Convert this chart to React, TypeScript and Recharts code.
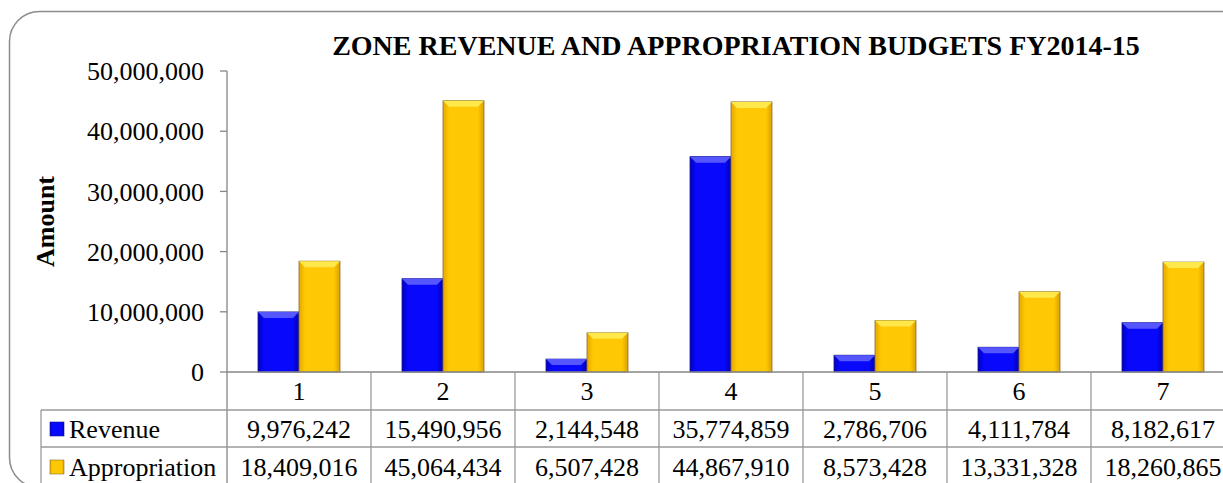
import React from "react";
import { BarChart, Bar, XAxis, YAxis } from "recharts";

const zones = ["1", "2", "3", "4", "5", "6", "7"];
const revenue = [9976242, 15490956, 2144548, 35774859, 2786706, 4111784, 8182617];
const appropriation = [18409016, 45064434, 6507428, 44867910, 8573428, 13331328, 18260865];
const yTicks = [0, 10000000, 20000000, 30000000, 40000000, 50000000];

const TITLE = "ZONE REVENUE AND APPROPRIATION BUDGETS FY2014-15";
const FONT = "'Liberation Serif', 'Times New Roman', serif";
const CELL = 144; // width of one category column
const GRID = "#9a9a9a";

const data = zones.map((zone, i) => ({
  zone,
  revenue: revenue[i],
  appropriation: appropriation[i],
}));

const fmt = (v: number) => v.toLocaleString("en-US");

// Excel-like bevelled bar
const makeBevel = (id: string, top: string, edge: string) => (props: any) => {
  const { x, y, width, height } = props;
  if (!height || height <= 0) return <g />;
  const b = Math.min(6, height / 2);
  return (
    <g>
      <rect x={x} y={y} width={width} height={height} fill={`url(#${id})`} stroke={edge} strokeWidth={0.8} />
      <polygon
        points={`${x},${y} ${x + width},${y} ${x + width - b},${y + b} ${x + b},${y + b}`}
        fill={top}
      />
    </g>
  );
};

const RevenueBar = makeBevel("gBlue", "#5656ff", "#1a1a8a");
const ApproBar = makeBevel("gGold", "#ffe84a", "#8a7030");

// data table under the plot, drawn per category tick
const TableTick = (props: any) => {
  const { x, y, payload, index } = props;
  const i = index ?? zones.indexOf(payload.value);
  const bottom = 490;
  const textStyle = { fontFamily: FONT, fontSize: 26, fill: "#000" };
  return (
    <g>
      <line x1={x + CELL / 2} y1={y} x2={x + CELL / 2} y2={bottom} stroke={GRID} strokeWidth={1.3} />
      {i === 0 && (
        <g>
          <line x1={x - CELL / 2} y1={y} x2={x - CELL / 2} y2={bottom} stroke="#868686" strokeWidth={1.3} />
          <line x1={41} y1={y + 38} x2={1300} y2={y + 38} stroke={GRID} strokeWidth={1.3} />
          <line x1={41} y1={y + 75} x2={1300} y2={y + 75} stroke={GRID} strokeWidth={1.3} />
          <line x1={41} y1={y + 38} x2={41} y2={bottom} stroke={GRID} strokeWidth={1.3} />
          <rect x={50} y={y + 50} width={14} height={14} fill="url(#gBlue)" stroke="#1a1a8a" strokeWidth={0.6} />
          <text x={69} y={y + 66} {...textStyle}>Revenue</text>
          <rect x={50} y={y + 88} width={14} height={14} fill="url(#gGold)" stroke="#8a7030" strokeWidth={0.6} />
          <text x={69} y={y + 104} {...textStyle}>Appropriation</text>
        </g>
      )}
      <text x={x} y={y + 28} textAnchor="middle" {...textStyle}>{payload.value}</text>
      <text x={x} y={y + 66} textAnchor="middle" {...textStyle}>{fmt(revenue[i])}</text>
      <text x={x} y={y + 104} textAnchor="middle" {...textStyle}>{fmt(appropriation[i])}</text>
    </g>
  );
};

export default function App() {
  return (
    <div
      style={{
        position: "fixed",
        left: 0,
        top: 0,
        width: 1223,
        height: 483,
        overflow: "hidden",
        background: "#fff",
      }}
    >
      <svg width={1223} height={483} style={{ position: "absolute", left: 0, top: 0 }}>
        <defs>
          <linearGradient id="gBlue" x1="0" y1="0" x2="1" y2="0">
            <stop offset="0" stopColor="#0000c4" />
            <stop offset="0.15" stopColor="#0808fa" />
            <stop offset="0.85" stopColor="#0808fa" />
            <stop offset="1" stopColor="#0000b4" />
          </linearGradient>
          <linearGradient id="gGold" x1="0" y1="0" x2="1" y2="0">
            <stop offset="0" stopColor="#e6a800" />
            <stop offset="0.15" stopColor="#ffc805" />
            <stop offset="0.85" stopColor="#ffc805" />
            <stop offset="1" stopColor="#dca000" />
          </linearGradient>
        </defs>
        <rect x={9.5} y={11.5} width={1300} height={476} rx={30} fill="#fff" stroke="#8c8c8c" strokeWidth={1.5} />
        <text
          x={736}
          y={55}
          textAnchor="middle"
          fontFamily={FONT}
          fontSize={28}
          fontWeight="bold"
          fill="#000"
        >
          {TITLE}
        </text>
      </svg>
      <div style={{ position: "absolute", left: 0, top: 0 }}>
        <BarChart
          width={1250}
          height={483}
          data={data}
          margin={{ top: 71, right: 15, bottom: 0, left: 47 }}
          barGap={0}
          barSize={41}
        >
          <XAxis
            dataKey="zone"
            height={111}
            interval={0}
            tickLine={false}
            tickSize={0}
            tickMargin={0}
            axisLine={{ stroke: "#868686", strokeWidth: 1.3 }}
            tick={<TableTick />}
          />
          <YAxis
            width={180}
            domain={[0, 50000000]}
            ticks={yTicks}
            interval={0}
            tickFormatter={fmt}
            tickSize={7}
            tickMargin={16}
            axisLine={{ stroke: "#868686", strokeWidth: 1.3 }}
            tickLine={{ stroke: "#868686", strokeWidth: 1.3 }}
            tick={{ fontFamily: FONT, fontSize: 26, fill: "#000" }}
            label={{
              value: "Amount",
              angle: -90,
              position: "insideLeft",
              offset: 0,
              dx: -2,
              style: {
                textAnchor: "middle",
                fontFamily: FONT,
                fontSize: 26,
                fontWeight: "bold",
                fill: "#000",
              },
            }}
          />
          <Bar dataKey="revenue" name="Revenue" fill="#0808fa" shape={RevenueBar} isAnimationActive={false} />
          <Bar dataKey="appropriation" name="Appropriation" fill="#ffc805" shape={ApproBar} isAnimationActive={false} />
        </BarChart>
      </div>
    </div>
  );
}
